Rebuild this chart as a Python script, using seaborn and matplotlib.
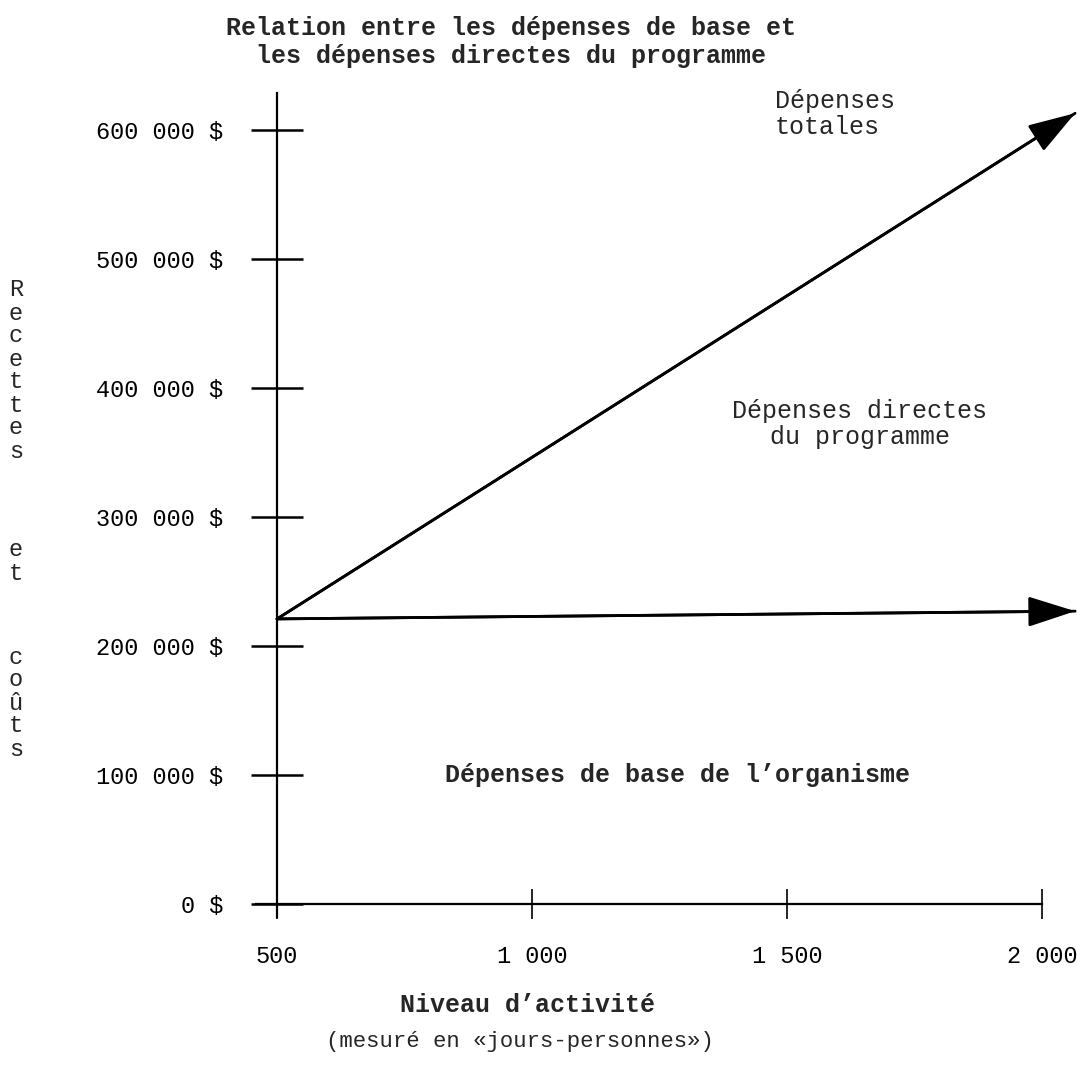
import numpy as np
import pandas as pd
import matplotlib
matplotlib.use("Agg")
import matplotlib.pyplot as plt
import seaborn as sns

# ------------------------------------------------------------------ data
activity = [500, 2065]                    # niveau d'activité (jours-personnes)
total_cost = [221000, 613000]             # dépenses totales
base_cost = [221000, 227000]              # dépenses de base de l'organisme
x_ticks = [500, 1000, 1500, 2000]
x_ticklabels = ["500", "1 000", "1 500", "2 000"]
y_ticks = [0, 100000, 200000, 300000, 400000, 500000, 600000]
y_ticklabels = ["0 $", "100 000 $", "200 000 $", "300 000 $",
                "400 000 $", "500 000 $", "600 000 $"]
title_text = "Relation entre les dépenses de base et\nles dépenses directes du programme"
xlabel_text = "Niveau d’activité"
xsub_text = "(mesuré en «jours-personnes»)"
ylabel_groups = ["Recettes", "et", "coûts"]
label_total = "Dépenses\ntotales"
label_direct = "Dépenses directes\ndu programme"
label_base = "Dépenses de base de l’organisme"

# ------------------------------------------------------------------ layout (pixels)
W, H, DPI = 1077, 1068, 100
AX_L, AX_R, AX_T, AX_B = 150, 1077, 70, 940
X500_PX, PX_PER_X = 277, 0.51
Y0_PX, PX_PER_Y = 904, 1.29e-3

sns.set_style("white")
plt.rcParams["font.family"] = ["Liberation Mono", "DejaVu Sans"]

fig = plt.figure(figsize=(W / DPI, H / DPI), dpi=DPI)
ax = fig.add_axes([AX_L / W, 1 - AX_B / H, (AX_R - AX_L) / W, (AX_B - AX_T) / H])

df_total = pd.DataFrame({"activite": activity, "cout": total_cost})
df_base = pd.DataFrame({"activite": activity, "cout": base_cost})
sns.lineplot(data=df_total, x="activite", y="cout", color="black", lw=2.0, ax=ax)
sns.lineplot(data=df_base, x="activite", y="cout", color="black", lw=2.0, ax=ax)

arrow = dict(arrowstyle="-|>,head_length=1.4,head_width=0.45", mutation_scale=21,
             color="black", lw=2.0, shrinkA=0, shrinkB=0)
for ys in (total_cost, base_cost):
    ax.annotate("", xy=(activity[-1], ys[-1]), xytext=(activity[-2], ys[-2]),
                arrowprops=arrow, annotation_clip=False)

ax.set_xlim(500 + (AX_L - X500_PX) / PX_PER_X, 500 + (AX_R - X500_PX) / PX_PER_X)
ax.set_ylim((Y0_PX - AX_B) / PX_PER_Y, (Y0_PX - AX_T) / PX_PER_Y)

for s in ("top", "right"):
    ax.spines[s].set_visible(False)
ax.spines["left"].set_position(("data", x_ticks[0]))
ax.spines["bottom"].set_position(("data", y_ticks[0]))
ax.spines["left"].set_bounds((Y0_PX - 917) / PX_PER_Y, (Y0_PX - 93) / PX_PER_Y)
ax.spines["bottom"].set_bounds(500 + (256 - X500_PX) / PX_PER_X, x_ticks[-1])
for s in ("left", "bottom"):
    ax.spines[s].set_color("black")
    ax.spines[s].set_linewidth(1.6)

ax.set_xticks(x_ticks)
ax.set_xticklabels(x_ticklabels)
ax.set_yticks(y_ticks)
ax.set_yticklabels(y_ticklabels)
ax.tick_params(axis="y", direction="inout", length=37, width=1.8, pad=20,
               labelsize=17, colors="black", left=True)
ax.tick_params(axis="x", direction="inout", length=21, width=1.2, pad=19,
               labelsize=17, colors="black", bottom=True)
ax.set_xlabel("")
ax.set_ylabel("")


def fx(px):
    return px / W


def fy(py):
    return 1 - py / H


fig.text(fx(511), fy(42), title_text, ha="center", va="center", fontsize=18,
         fontweight="bold", linespacing=1.2, multialignment="center")
fig.text(fx(775), fy(114), label_total, ha="left", va="center", fontsize=18,
         linespacing=1.1)
fig.text(fx(732), fy(424), label_direct, ha="left", va="center", fontsize=18,
         linespacing=1.1, multialignment="center")
fig.text(fx(445), fy(775), label_base, ha="left", va="center", fontsize=18,
         fontweight="bold")
fig.text(fx(527), fy(1005), xlabel_text, ha="center", va="center", fontsize=18,
         fontweight="bold")
fig.text(fx(520), fy(1042), xsub_text, ha="center", va="center", fontsize=16)

# vertical letter-by-letter axis title
group_start = [290, 550, 657]
group_step = [23, 23, 23]
for word, y0, step in zip(ylabel_groups, group_start, group_step):
    for i, ch in enumerate(word):
        fig.text(fx(16), fy(y0 + i * step), ch, ha="center", va="center",
                 fontsize=17)

fig.savefig("out.png", dpi=DPI, facecolor="white")
